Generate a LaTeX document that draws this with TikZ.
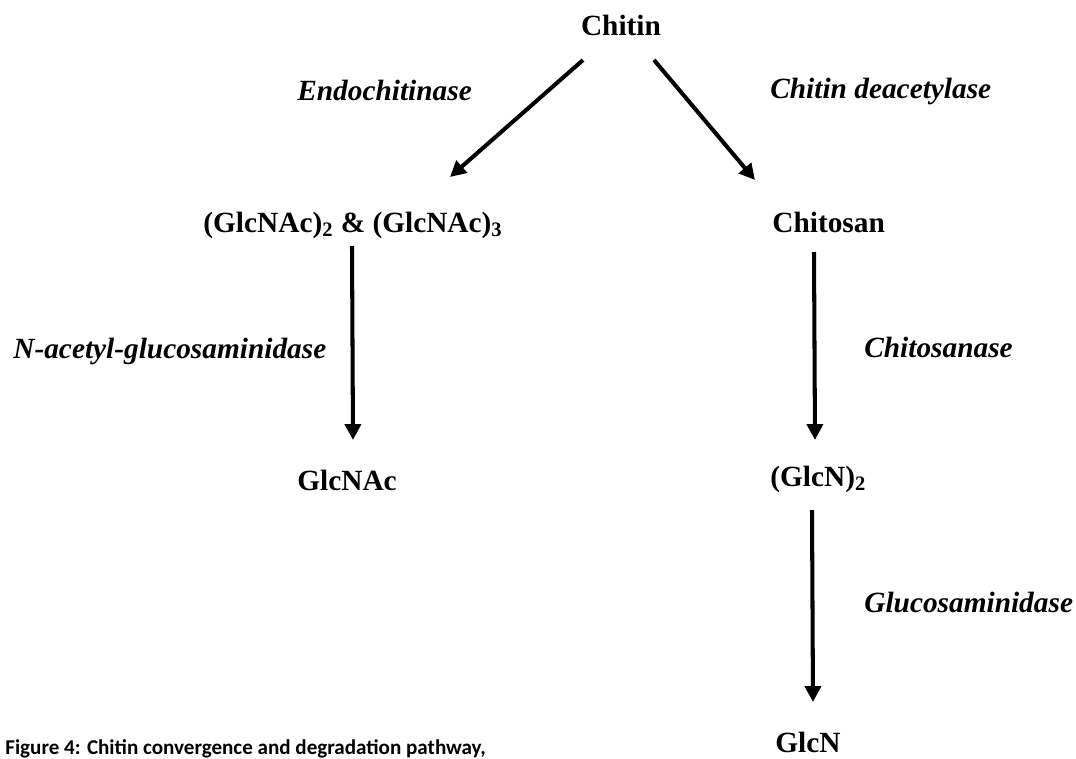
\documentclass[tikz,border=0pt]{standalone}
\usepackage{fontspec}
\setmainfont{Liberation Serif}
\newfontfamily\capfont{Carlito}
\usetikzlibrary{arrows.meta}

\begin{document}
\begin{tikzpicture}[x=0.02cm,y=-0.02cm,
    arr/.style={line width=2.3pt,-{Triangle[length=9pt,width=9pt]}},
    chem/.style={anchor=base west,inner sep=0pt,font=\fontsize{16.7}{20}\selectfont\bfseries},
    enz/.style={anchor=base west,inner sep=0pt,font=\fontsize{16.7}{20}\selectfont\bfseries\itshape}]
      \useasboundingbox (0,0) rectangle (1076,758);
      % compounds
      \node[chem,anchor=base] (chitin) at (621,35)  {Chitin};
      \node[chem] (oligo)    at (203,232) {(GlcNAc)\textsubscript{2} \& (GlcNAc)\textsubscript{3}};
      \node[chem] (chitosan) at (772,232) {Chitosan};
      \node[chem] (glcnac)   at (297,490) {GlcNAc};
      \node[chem] (glcn2)    at (770,486) {(GlcN)\textsubscript{2}};
      \node[chem] (glcn)     at (775,752) {GlcN};
      % enzymes
      \node[enz] (endo)  at (297,100) {Endochitinase};
      \node[enz] (deac)  at (770,98)  {Chitin deacetylase};
      \node[enz] (nag)   at (13,358)  {N-acetyl-glucosaminidase};
      \node[enz] (chase) at (864,357) {Chitosanase};
      \node[enz] (gase)  at (864,612) {Glucosaminidase};
      % arrow ends
      \coordinate (chitinL) at (583,60);
      \coordinate (chitinR) at (654,60);
      \coordinate (oligoT)  at (450,177);
      \coordinate (chitosT) at (755,180);
      \coordinate (oligoB)  at (352,246);
      \coordinate (glcnacT) at (353,440);
      \coordinate (chitosB) at (814,252);
      \coordinate (glcn2T)  at (815,440);
      \coordinate (glcn2B)  at (812,510);
      \coordinate (glcnT)   at (813,702);
      \draw[arr] (chitinL) -- (oligoT);
      \draw[arr] (chitinR) -- (chitosT);
      \draw[arr] (oligoB) -- (glcnacT);
      \draw[arr] (chitosB) -- (glcn2T);
      \draw[arr] (glcn2B) -- (glcnT);
      % caption
      \node[anchor=base west,inner sep=0pt,font=\capfont\fontsize{12}{14}\selectfont\bfseries]
          (cap) at (5,754) {Figure 4: Chitin convergence and degradation pathway,};
\end{tikzpicture}
\end{document}
